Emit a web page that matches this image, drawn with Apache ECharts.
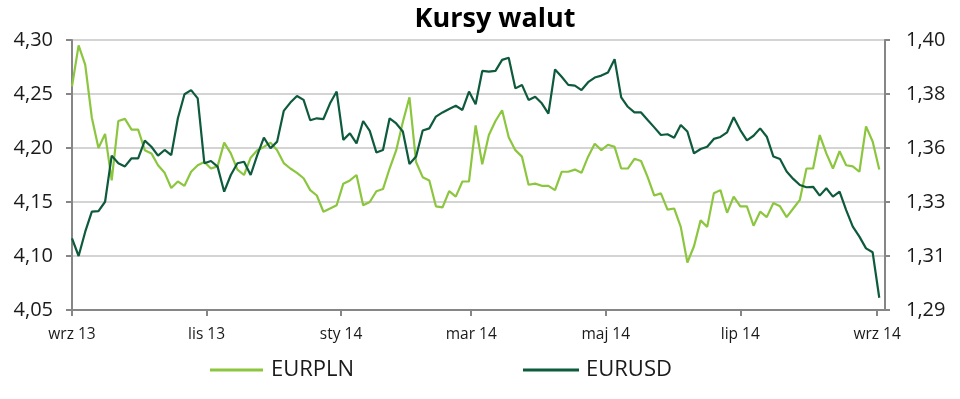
<!DOCTYPE html>
<html>
<head>
<meta charset="utf-8">
<script src="https://cdn.jsdelivr.net/npm/echarts@6/dist/echarts.min.js"></script>
<style>
html, body { margin: 0; padding: 0; background: #fff; }
#main { width: 960px; height: 399px; }
</style>
</head>
<body>
<div id="main"></div>
<script>
// punkty co 3 dni, od 2 wrz 2013
const startDay = [2013, 8, 2]
const stepDays = 3

const eurpln = [
  4.257, 4.295, 4.277, 4.228, 4.200, 4.213, 4.170, 4.225, 4.227, 4.217,
  4.217, 4.198, 4.195, 4.184, 4.177, 4.163, 4.169, 4.165, 4.178, 4.184,
  4.187, 4.181, 4.183, 4.205, 4.195, 4.180, 4.175, 4.191, 4.198, 4.201,
  4.205, 4.198, 4.186, 4.181, 4.177, 4.172, 4.161, 4.156, 4.141, 4.144,
  4.147, 4.167, 4.170, 4.175, 4.147, 4.150, 4.160, 4.162, 4.181, 4.198,
  4.224, 4.247, 4.187, 4.173, 4.170, 4.146, 4.145, 4.160, 4.155, 4.169,
  4.169, 4.221, 4.185, 4.212, 4.225, 4.235, 4.210, 4.198, 4.192, 4.166,
  4.167, 4.165, 4.165, 4.161, 4.178, 4.178, 4.180, 4.177, 4.192, 4.204,
  4.198, 4.203, 4.201, 4.181, 4.181, 4.190, 4.188, 4.173, 4.156, 4.158,
  4.143, 4.144, 4.127, 4.094, 4.109, 4.133, 4.127, 4.158, 4.161, 4.140,
  4.155, 4.146, 4.146, 4.128, 4.141, 4.136, 4.149, 4.146, 4.136, 4.144,
  4.152, 4.181, 4.181, 4.212, 4.195, 4.181, 4.197, 4.184, 4.183, 4.178,
  4.220, 4.206, 4.180
]

const eurusd = [
  1.3192, 1.3120, 1.3219, 1.3301, 1.3303, 1.3341, 1.3529, 1.3498, 1.3485, 1.3518,
  1.3518, 1.3590, 1.3565, 1.3529, 1.3552, 1.3531, 1.3681, 1.3779, 1.3796, 1.3762,
  1.3498, 1.3507, 1.3484, 1.3382, 1.3450, 1.3498, 1.3504, 1.3450, 1.3531, 1.3602,
  1.3559, 1.3586, 1.3711, 1.3745, 1.3772, 1.3756, 1.3673, 1.3681, 1.3678, 1.3742,
  1.3790, 1.3593, 1.3620, 1.3579, 1.3670, 1.3630, 1.3542, 1.3552, 1.3681, 1.3660,
  1.3627, 1.3495, 1.3525, 1.3631, 1.3640, 1.3688, 1.3705, 1.3719, 1.3732, 1.3715,
  1.3790, 1.3738, 1.3874, 1.3871, 1.3874, 1.3919, 1.3928, 1.3803, 1.3817, 1.3756,
  1.3769, 1.3742, 1.3700, 1.3880, 1.3850, 1.3817, 1.3814, 1.3796, 1.3828, 1.3847,
  1.3855, 1.3868, 1.3922, 1.3766, 1.3728, 1.3705, 1.3705, 1.3674, 1.3644, 1.3613,
  1.3616, 1.3602, 1.3654, 1.3627, 1.3538, 1.3556, 1.3565, 1.3597, 1.3605, 1.3624,
  1.3685, 1.3633, 1.3591, 1.3610, 1.3640, 1.3606, 1.3525, 1.3515, 1.3464, 1.3434,
  1.3409, 1.3400, 1.3402, 1.3366, 1.3396, 1.3362, 1.3382, 1.3307, 1.3240, 1.3199,
  1.3151, 1.3135, 1.2950
]

const xTickDays = [
  [2013, 8, 2], [2013, 10, 2], [2014, 0, 2], [2014, 2, 2],
  [2014, 4, 2], [2014, 6, 2], [2014, 8, 2]
]
const rightTicks = [1.29, 1.312, 1.334, 1.356, 1.378, 1.40]
const months = ['sty', 'lut', 'mar', 'kwi', 'maj', 'cze', 'lip', 'sie', 'wrz', 'paź', 'lis', 'gru']

const DAY = 86400000
const t0 = Date.UTC(startDay[0], startDay[1], startDay[2])
const dayOf = d => Math.round((Date.UTC(d[0], d[1], d[2]) - t0) / DAY)
const xTicks = xTickDays.map(dayOf)
const days = eurpln.map((v, i) => i * stepDays)

const font = 'Open Sans'
const axisColor = '#868686'
const textColor = '#1a1a1a'
const comma = v => v.toFixed(2).replace('.', ',')

const chart = echarts.init(document.getElementById('main'))
chart.setOption({
  animation: false,
  title: {
    text: 'Kursy walut',
    left: 490,
    top: 1,
    textAlign: 'center',
    textStyle: { fontFamily: font, fontWeight: 'bold', fontSize: 27, color: '#000' }
  },
  legend: [
    {
      left: 210, top: 359, padding: 0, icon: 'rect', itemWidth: 53, itemHeight: 3,
      data: ['EURPLN'],
      textStyle: { fontFamily: font, fontSize: 22, color: textColor, padding: [0, 0, 0, 3] }
    },
    {
      left: 523, top: 359, padding: 0, icon: 'rect', itemWidth: 56, itemHeight: 3,
      data: ['EURUSD'],
      textStyle: { fontFamily: font, fontSize: 22, color: textColor, padding: [0, 0, 0, 2] }
    }
  ],
  grid: { left: 72, right: 75, top: 40, bottom: 89 },
  xAxis: {
    type: 'value',
    min: 0,
    max: 368.6,
    axisLine: { lineStyle: { color: axisColor, width: 2 } },
    axisTick: { customValues: xTicks, length: 6, lineStyle: { color: axisColor, width: 2 } },
    axisLabel: {
      customValues: xTicks,
      margin: 17,
      fontFamily: font,
      fontSize: 15.5,
      color: textColor,
      formatter: v => {
        const d = new Date(t0 + v * DAY)
        return months[d.getUTCMonth()] + ' ' + String(d.getUTCFullYear()).slice(2)
      }
    },
    splitLine: { show: false }
  },
  yAxis: [
    {
      type: 'value',
      min: 4.05,
      max: 4.30,
      interval: 0.05,
      axisLine: { show: true, lineStyle: { color: axisColor, width: 2 } },
      axisTick: { show: true, length: 6, lineStyle: { color: axisColor, width: 2 } },
      axisLabel: { margin: 19, fontFamily: font, fontSize: 20, color: textColor, formatter: comma },
      splitLine: { lineStyle: { color: '#d4d4d4', width: 2 } }
    },
    {
      type: 'value',
      min: 1.29,
      max: 1.40,
      axisLine: { show: true, lineStyle: { color: axisColor, width: 2 } },
      axisTick: { show: true, customValues: rightTicks, length: 5, lineStyle: { color: axisColor, width: 2 } },
      axisLabel: { customValues: rightTicks, margin: 21, fontFamily: font, fontSize: 20, color: textColor, formatter: comma },
      splitLine: { show: false }
    }
  ],
  series: [
    {
      name: 'EURPLN',
      type: 'line',
      data: days.map((d, i) => [d, eurpln[i]]),
      showSymbol: false,
      color: '#8cc63f',
      lineStyle: { width: 2.2, color: '#8cc63f' }
    },
    {
      name: 'EURUSD',
      type: 'line',
      yAxisIndex: 1,
      data: days.map((d, i) => [d, eurusd[i]]),
      showSymbol: false,
      color: '#0e5a3c',
      lineStyle: { width: 2.2, color: '#0e5a3c' }
    }
  ]
})
</script>
</body>
</html>
